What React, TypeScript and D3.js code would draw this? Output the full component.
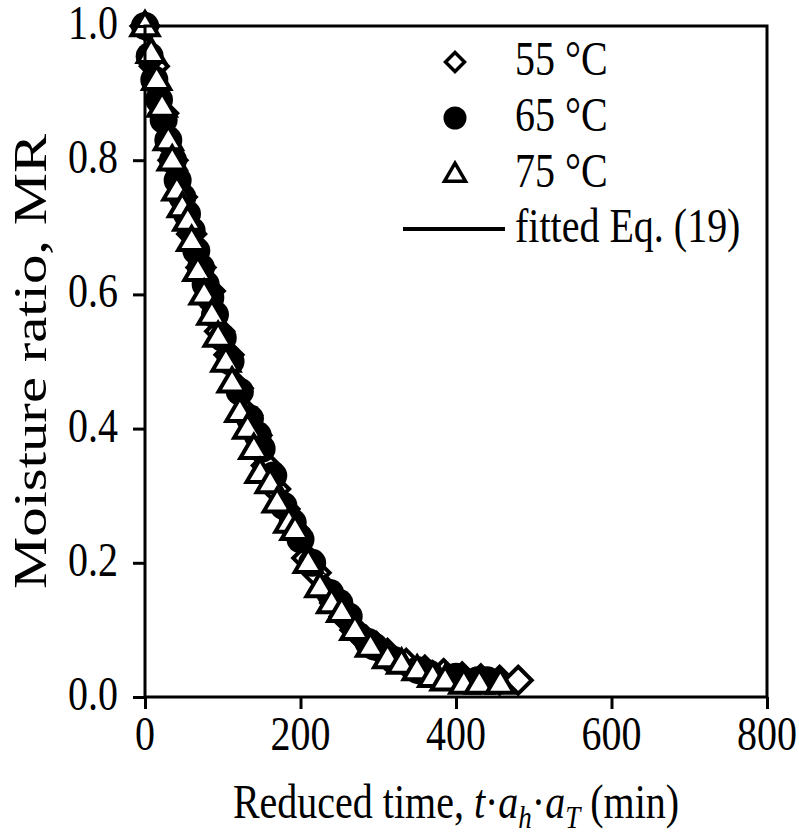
import React, { useRef, useEffect } from 'react';
import * as d3 from 'd3';

// reduced time (min) and moisture ratio
const t55 = [0, 12, 24, 36, 48, 60, 72, 84, 96, 108, 120, 132, 144, 156, 168, 180, 192, 208, 220, 232, 244, 256, 270, 284, 298, 312, 336, 360, 384, 408, 432, 456, 480];
const mr55 = [1.0, 0.94, 0.87, 0.8, 0.745, 0.69, 0.64, 0.605, 0.545, 0.51, 0.46, 0.42, 0.39, 0.345, 0.31, 0.28, 0.25, 0.207, 0.185, 0.16, 0.14, 0.12, 0.1, 0.085, 0.075, 0.065, 0.05, 0.04, 0.035, 0.03, 0.027, 0.025, 0.025];

const t65 = [0, 6, 12, 18, 24, 30, 36, 42, 48, 54, 60, 66, 72, 78, 84, 90, 100, 110, 122, 135, 145, 150, 165, 178, 190, 200, 215, 238, 250, 262, 287, 295, 320, 351, 365, 400, 428, 440];
const mr65 = [1.0, 0.955, 0.92, 0.89, 0.86, 0.83, 0.8, 0.77, 0.745, 0.72, 0.695, 0.665, 0.64, 0.615, 0.595, 0.57, 0.535, 0.5, 0.455, 0.415, 0.39, 0.37, 0.33, 0.285, 0.26, 0.235, 0.2, 0.155, 0.14, 0.12, 0.082, 0.075, 0.055, 0.04, 0.035, 0.03, 0.025, 0.025];

const t75 = [0, 8, 15, 22, 30, 35, 41, 48, 55, 60, 68, 76, 86, 94, 104, 112, 122, 132, 140, 148, 161, 170, 185, 193, 210, 225, 240, 253, 270, 290, 312, 330, 350, 370, 386, 410, 430, 457];
const mr75 = [1.0, 0.96, 0.92, 0.88, 0.83, 0.8, 0.755, 0.73, 0.71, 0.68, 0.635, 0.6, 0.57, 0.537, 0.5, 0.469, 0.425, 0.4, 0.37, 0.334, 0.319, 0.29, 0.26, 0.249, 0.2, 0.164, 0.14, 0.127, 0.1, 0.075, 0.058, 0.05, 0.04, 0.03, 0.025, 0.02, 0.02, 0.02];

// fitted Eq. (19)
const tFit = [0, 25, 50, 75, 100, 125, 150, 175, 200, 225, 250, 275, 300, 325, 350, 375, 400, 425, 450, 475];
const mrFit = [1.0, 0.86, 0.73, 0.625, 0.53, 0.445, 0.365, 0.295, 0.235, 0.18, 0.135, 0.1, 0.072, 0.052, 0.038, 0.028, 0.021, 0.017, 0.014, 0.012];

const xTicks = [0, 200, 400, 600, 800];
const yTicks = [0, 0.2, 0.4, 0.6, 0.8, 1.0];
const legendLabels = ['55 °C', '65 °C', '75 °C', 'fitted Eq. (19)'];

const FONT = '"Liberation Serif", "Times New Roman", serif';
const SY = 1.2; // the figure's text is stretched vertically

const diamond = (r: number) => `M0,${-r}L${r},0L0,${r}L${-r},0Z`;
const triangle = (w: number, h: number) => `M0,${-h * 0.6}L${w / 2},${h * 0.4}L${-w / 2},${h * 0.4}Z`;

const Chart = () => {
    const ref = useRef<HTMLDivElement>(null);

    useEffect(() => {
        const root = d3.select(ref.current);
        root.select('svg').remove();

        const svg = root.append('svg')
            .attr('width', 799)
            .attr('height', 835)
            .style('display', 'block')
            .style('background', '#fff')
            .style('overflow', 'visible');

        const left = 145, right = 767, top = 26, bottom = 697;
        const x = d3.scaleLinear().domain([0, 800]).range([left, right]);
        const y = d3.scaleLinear().domain([0, 1]).range([bottom, top]);

        const text = (tx: number, ty: number, s: string, anchor: string) =>
            svg.append('text')
                .attr('transform', `translate(${tx},${ty}) scale(1,${SY})`)
                .attr('text-anchor', anchor)
                .attr('font-family', FONT)
                .attr('font-size', 40)
                .attr('fill', '#000')
                .text(s);

        // fitted line first, markers on top
        const line = d3.line<number>()
            .x((_, i) => x(tFit[i]))
            .y(d => y(d))
            .curve(d3.curveMonotoneX);
        svg.append('path')
            .attr('d', line(mrFit))
            .attr('fill', 'none')
            .attr('stroke', '#000')
            .attr('stroke-width', 3.5);

        svg.append('g').selectAll('path')
            .data(mr55)
            .enter()
            .append('path')
            .attr('d', diamond(13.5))
            .attr('transform', (d, i) => `translate(${x(t55[i])},${y(d)})`)
            .attr('fill', '#fff')
            .attr('stroke', '#000')
            .attr('stroke-width', 4);

        svg.append('g').selectAll('circle')
            .data(mr65)
            .enter()
            .append('circle')
            .attr('cx', (_, i) => x(t65[i]))
            .attr('cy', d => y(d))
            .attr('r', 14)
            .attr('fill', '#000');

        svg.append('g').selectAll('path')
            .data(mr75)
            .enter()
            .append('path')
            .attr('d', triangle(27, 23))
            .attr('transform', (d, i) => `translate(${x(t75[i])},${y(d)})`)
            .attr('fill', '#fff')
            .attr('stroke', '#000')
            .attr('stroke-width', 4)
            .attr('stroke-linejoin', 'miter');

        // axes and frame
        const yAxis = svg.append('g')
            .attr('transform', `translate(${left},0)`)
            .call(d3.axisLeft(y).tickValues(yTicks).tickSize(12).tickFormat(() => ''));
        const xAxis = svg.append('g')
            .attr('transform', `translate(0,${bottom})`)
            .call(d3.axisBottom(x).tickValues(xTicks).tickSize(12).tickFormat(() => ''));
        [xAxis, yAxis].forEach(a => {
            a.select('.domain').remove();
            a.selectAll('line').attr('stroke', '#000').attr('stroke-width', 3);
        });
        svg.append('path')
            .attr('d', `M${left},${top}L${right},${top}L${right},${bottom}L${left},${bottom}Z`)
            .attr('fill', 'none')
            .attr('stroke', '#000')
            .attr('stroke-width', 3);

        yTicks.forEach(v => text(118, y(v) + 13, d3.format('.1f')(v), 'end'));
        xTicks.forEach(v => text(x(v), 750, String(v), 'middle'));

        // axis titles
        svg.append('text')
            .attr('transform', `translate(46,${(top + bottom) / 2}) rotate(-90) scale(1.25,1)`)
            .attr('text-anchor', 'middle')
            .attr('font-family', FONT)
            .attr('font-size', 47)
            .text('Moisture ratio, MR');

        const xt = svg.append('text')
            .attr('transform', `translate(456,818) scale(1,${SY})`)
            .attr('text-anchor', 'middle')
            .attr('font-family', FONT)
            .attr('font-size', 40);
        xt.append('tspan').text('Reduced time, ');
        xt.append('tspan').attr('font-style', 'italic').text('t');
        xt.append('tspan').text('·');
        xt.append('tspan').attr('font-style', 'italic').text('a');
        xt.append('tspan').attr('font-style', 'italic').attr('font-size', 27).attr('dy', 8).text('h');
        xt.append('tspan').attr('dy', -8).text('·');
        xt.append('tspan').attr('font-style', 'italic').text('a');
        xt.append('tspan').attr('font-style', 'italic').attr('font-size', 27).attr('dy', 8).text('T');
        xt.append('tspan').attr('dy', -8).text(' (min)');

        // legend
        const rows = [62, 118, 174, 229];
        svg.append('path').attr('d', diamond(9.5))
            .attr('transform', `translate(455,${rows[0]})`)
            .attr('fill', '#fff').attr('stroke', '#000').attr('stroke-width', 3.5);
        svg.append('circle').attr('cx', 455).attr('cy', rows[1]).attr('r', 11.5).attr('fill', '#000');
        svg.append('path').attr('d', triangle(21, 18))
            .attr('transform', `translate(455,${rows[2]})`)
            .attr('fill', '#fff').attr('stroke', '#000').attr('stroke-width', 3.5);
        svg.append('line')
            .attr('x1', 403).attr('x2', 505)
            .attr('y1', rows[3]).attr('y2', rows[3])
            .attr('stroke', '#000').attr('stroke-width', 4);
        legendLabels.forEach((s, i) => text(515, rows[i] + 13, s, 'start'));
    }, []);

    return <div ref={ref} />;
};

export default function App() {
    return (
        <div style={{ position: 'fixed', left: 0, top: 0, width: 799, height: 835, overflow: 'hidden' }}>
            <Chart />
        </div>
    );
}
